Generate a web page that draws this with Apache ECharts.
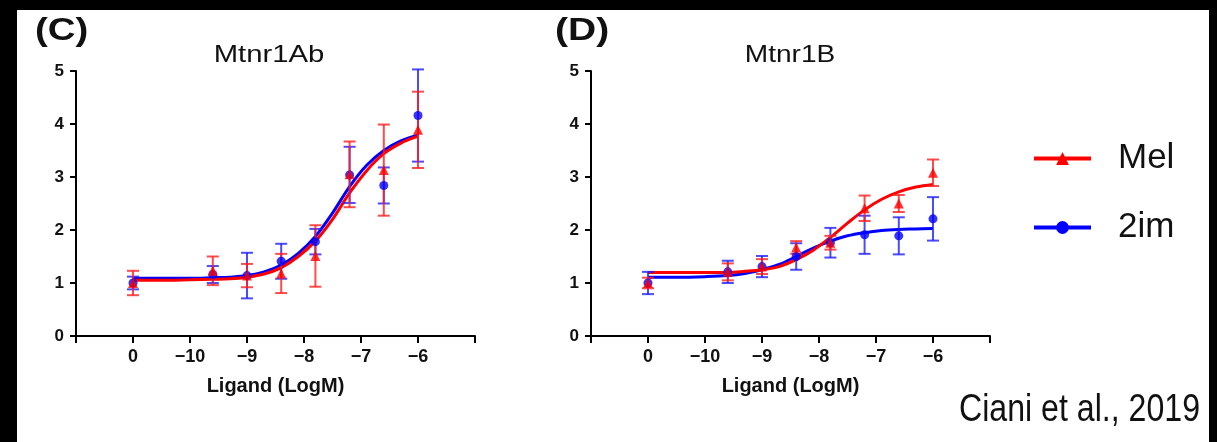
<!DOCTYPE html>
<html><head><meta charset="utf-8">
<script src="https://cdn.jsdelivr.net/npm/echarts@6/dist/echarts.min.js"></script>
<style>
html,body{margin:0;padding:0;background:#000;width:1217px;height:442px;overflow:hidden}
#panel{position:absolute;left:17px;top:10px;width:1192px;height:432px;background:#fff}
#chart{position:absolute;left:0;top:0;width:1217px;height:442px}
</style></head><body>
<div id="panel"></div><div id="chart"></div>
<script>
// x axis: log10 ligand concentration; -11 is where the vehicle ("0") point is drawn
const xMin = -12, xMax = -5;
const xTickLabels = ['', '0', '−10', '−9', '−8', '−7', '−6', ''];
const yTickMax = 5;
const doses = [-11, -9.6, -9, -8.4, -7.8, -7.2, -6.6, -6];

// Panel C: Mtnr1Ab
const cMelMean = [1.00, 1.23, 1.14, 1.18, 1.51, 3.05, 3.13, 3.89];
const cMelSem  = [0.23, 0.27, 0.22, 0.37, 0.58, 0.62, 0.86, 0.72];
const c2imMean = [1.00, 1.16, 1.14, 1.41, 1.78, 3.04, 2.84, 4.16];
const c2imSem  = [0.12, 0.16, 0.43, 0.33, 0.24, 0.53, 0.34, 0.87];

// Panel D: Mtnr1B
const dMelMean = [1.00, 1.21, 1.31, 1.67, 1.76, 2.41, 2.50, 3.08];
const dMelSem  = [0.10, 0.16, 0.14, 0.12, 0.13, 0.24, 0.16, 0.25];
const d2imMean = [1.00, 1.21, 1.31, 1.50, 1.76, 1.91, 1.89, 2.21];
const d2imSem  = [0.21, 0.21, 0.20, 0.25, 0.28, 0.36, 0.35, 0.41];

// fitted curves
const curveX   = [-11, -10.5, -10, -9.6, -9.3, -9, -8.7, -8.4, -8.1, -7.8, -7.5, -7.2, -6.9, -6.6, -6.3, -6];
const cMelFit  = [1.05, 1.05, 1.06, 1.07, 1.08, 1.11, 1.17, 1.29, 1.50, 1.79, 2.20, 2.70, 3.12, 3.44, 3.64, 3.77];
const c2imFit  = [1.09, 1.09, 1.09, 1.10, 1.11, 1.14, 1.21, 1.34, 1.56, 1.88, 2.32, 2.82, 3.22, 3.50, 3.68, 3.79];
const dMelFit  = [1.20, 1.20, 1.20, 1.20, 1.22, 1.25, 1.31, 1.44, 1.62, 1.86, 2.13, 2.38, 2.58, 2.72, 2.81, 2.86];
const d2imFit  = [1.11, 1.11, 1.12, 1.14, 1.18, 1.25, 1.35, 1.50, 1.66, 1.79, 1.89, 1.95, 1.99, 2.01, 2.02, 2.03];

const RED = '#ff0000', BLUE = '#0000ff';
const FONT = '"Liberation Sans", Arial, sans-serif';

function errRender(color){
  return function(params, api){
    const x = api.value(0), m = api.value(1), e = api.value(2);
    const t = api.coord([x, m + e]), b = api.coord([x, m - e]);
    const hw = 6, st = {stroke: color, lineWidth: 2};
    return {type:'group', children:[
      {type:'line', shape:{x1:t[0],y1:t[1],x2:b[0],y2:b[1]}, style:st},
      {type:'line', shape:{x1:t[0]-hw,y1:t[1],x2:t[0]+hw,y2:t[1]}, style:st},
      {type:'line', shape:{x1:b[0]-hw,y1:b[1],x2:b[0]+hw,y2:b[1]}, style:st}
    ]};
  };
}

function xAxis(i){
  return {type:'value', gridIndex:i, min:xMin, max:xMax, interval:1,
    name:'Ligand (LogM)', nameLocation:'middle', nameGap:40,
    nameTextStyle:{fontFamily:FONT, fontWeight:'bold', fontSize:20, color:'#111'},
    axisLine:{show:true, onZero:false, lineStyle:{color:'#000', width:2}},
    axisTick:{show:true, length:7, lineStyle:{color:'#000', width:2}},
    axisLabel:{margin:12, fontFamily:FONT, fontWeight:'bold', fontSize:18, color:'#111',
      showMinLabel:true, showMaxLabel:true,
      formatter: v => xTickLabels[Math.round(v - xMin)] || ''},
    splitLine:{show:false}};
}
function yAxis(i){
  return {type:'value', gridIndex:i, min:0, max:yTickMax, interval:1,
    axisLine:{show:true, lineStyle:{color:'#000', width:2}},
    axisTick:{show:true, length:6, lineStyle:{color:'#000', width:2}},
    axisLabel:{margin:12, fontFamily:FONT, fontWeight:'bold', fontSize:17, color:'#111'},
    splitLine:{show:false}};
}

function panelSeries(i, melMean, melSem, imMean, imSem, melFit, imFit){
  const pair = (xs, ys) => xs.map((x, k) => [x, ys[k]]);
  return [
    {type:'line', name:'2im', xAxisIndex:i, yAxisIndex:i, data:pair(curveX, imFit), smooth:0.35,
     showSymbol:false, symbol:'circle', symbolSize:12, lineStyle:{color:BLUE, width:3}, itemStyle:{color:BLUE}, z:2},
    {type:'line', name:'Mel', xAxisIndex:i, yAxisIndex:i, data:pair(curveX, melFit), smooth:0.35,
     showSymbol:false, symbol:'triangle', symbolSize:12, lineStyle:{color:RED, width:3}, itemStyle:{color:RED}, z:3},
    {type:'custom', name:'2im err', xAxisIndex:i, yAxisIndex:i, renderItem:errRender('rgba(30,30,255,0.8)'),
     data:doses.map((x,k)=>[x, imMean[k], imSem[k]]), encode:{x:0, y:1}, z:4},
    {type:'custom', name:'Mel err', xAxisIndex:i, yAxisIndex:i, renderItem:errRender('rgba(255,30,30,0.8)'),
     data:doses.map((x,k)=>[x, melMean[k], melSem[k]]), encode:{x:0, y:1}, z:5},
    {type:'scatter', name:'2im pts', xAxisIndex:i, yAxisIndex:i, data:pair(doses, imMean),
     symbol:'circle', symbolSize:9, itemStyle:{color:BLUE}, z:6},
    {type:'scatter', name:'Mel pts', xAxisIndex:i, yAxisIndex:i, data:pair(doses, melMean),
     symbol:'triangle', symbolSize:10, itemStyle:{color:RED}, z:7}
  ];
}

function txt(text, x, y, size, weight, align, sx){
  return {type:'text', silent:true, x:x, y:y, scaleX:sx, scaleY:1,
    style:{text, x:0, y:0, font: weight + ' ' + size + 'px ' + FONT,
    fill:'#111', textAlign:align, align:align, textVerticalAlign:'middle', verticalAlign:'middle'}};
}

const chart = echarts.init(document.getElementById('chart'), null, {renderer:'canvas'});
chart.setOption({
  animation:false,
  backgroundColor:'transparent',
  grid:[
    {left:76, top:71, width:399, height:265, containLabel:false},
    {left:591, top:71, width:399, height:265, containLabel:false}
  ],
  xAxis:[xAxis(0), xAxis(1)],
  yAxis:[yAxis(0), yAxis(1)],
  legend:{data:['Mel','2im'], orient:'vertical', left:1032, top:141, padding:0,
    itemWidth:57, itemHeight:16, itemGap:34,
    lineStyle:{width:4},
    textStyle:{fontFamily:FONT, fontSize:35, color:'#111', padding:[0,0,0,22]}},
  graphic:[
    txt('(C)', 35, 31, 32, 'bold', 'left', 1.2),
    txt('Mtnr1Ab', 269, 55, 24, 'normal', 'center', 1.22),
    txt('(D)', 555, 31, 32, 'bold', 'left', 1.22),
    txt('Mtnr1B', 790, 55, 24, 'normal', 'center', 1.17),
    txt('Ciani et al., 2019', 1200, 411, 38, 'normal', 'right', 0.845)
  ],
  series:[
    ...panelSeries(0, cMelMean, cMelSem, c2imMean, c2imSem, cMelFit, c2imFit),
    ...panelSeries(1, dMelMean, dMelSem, d2imMean, d2imSem, dMelFit, d2imFit)
  ]
});
</script></body></html>
